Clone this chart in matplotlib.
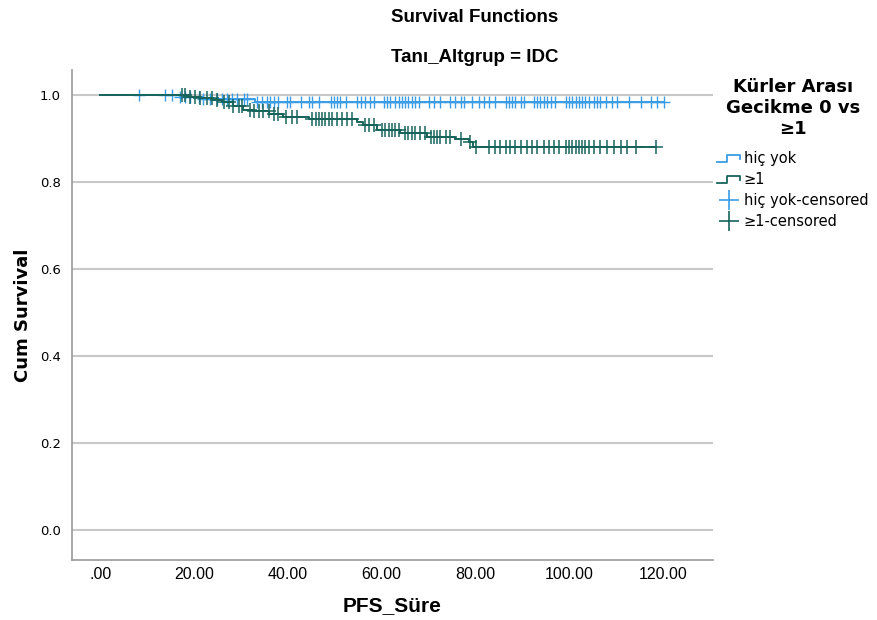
import numpy as np
import matplotlib
matplotlib.use('Agg')
import matplotlib.pyplot as plt
from matplotlib.lines import Line2D
from matplotlib.legend_handler import HandlerBase

# Kaplan-Meier steps
blue_event_t = [17.0, 22.0, 33.0]
blue_event_s = [0.995, 0.990, 0.984]
blue_end = 120.1

green_event_t = [18.5, 21.0, 24.0, 26.0, 28.4, 30.5, 32.6, 36.0, 39.0, 44.5,
                 54.8, 56.0, 59.0, 64.0, 69.7, 75.7, 78.5, 79.5]
green_event_s = [0.996, 0.992, 0.988, 0.984, 0.975, 0.966, 0.962, 0.957, 0.949, 0.945,
                 0.938, 0.931, 0.920, 0.913, 0.903, 0.899, 0.892, 0.880]
green_end = 118.4

blue_cens = [8.2, 13.9, 15.3, 17.1, 18.1, 19.2, 21.0, 22.0, 23.5, 24.9, 26.0, 27.0,
             28.1, 29.2, 30.6, 31.3, 33.4, 34.5, 35.5, 36.3, 37.0, 38.0, 39.8, 40.5,
             42.7, 44.4, 45.2, 46.6, 49.1, 49.8, 50.5, 51.2, 52.3, 54.7, 55.5, 56.5,
             57.6, 58.3, 60.4, 61.1, 61.8, 62.9, 63.6, 64.3, 65.0, 65.7, 66.5, 67.2,
             67.9, 70.0, 71.1, 72.5, 74.6, 75.7, 76.8, 77.5, 79.3, 80.7, 81.7, 82.8,
             84.2, 86.4, 87.1, 87.8, 88.5, 89.6, 90.3, 92.4, 93.1, 93.8, 94.5, 95.3,
             96.0, 97.0, 99.2, 99.9, 100.6, 101.3, 102.0, 102.7, 103.4, 104.1, 105.2,
             105.9, 106.6, 107.7, 109.1, 110.2, 112.7, 115.2, 117.3, 118.7, 120.1]

green_cens = [17.4, 18.1, 19.2, 20.3, 21.3, 22.8, 23.8, 24.9, 26.3, 27.4, 28.4, 29.5,
              30.2, 32.0, 32.7, 33.8, 34.8, 35.9, 37.0, 38.0, 39.5, 40.9, 42.0, 45.2,
              45.9, 46.6, 47.3, 48.0, 48.7, 49.4, 50.5, 51.5, 52.6, 53.7, 56.5, 57.2,
              58.3, 60.1, 60.8, 61.5, 62.2, 62.9, 63.6, 65.0, 65.7, 66.5, 67.2, 68.2,
              69.3, 70.4, 71.1, 71.8, 72.5, 73.6, 74.6, 76.8, 78.9, 80.0, 82.8, 84.2,
              85.3, 86.4, 87.4, 88.5, 89.6, 91.0, 92.1, 93.1, 94.5, 95.6, 96.7, 97.7,
              99.2, 99.9, 100.6, 101.3, 102.0, 102.7, 103.4, 104.1, 105.2, 106.6, 108.0,
              109.5, 110.9, 112.3, 114.1, 118.4]

blue_c = '#3a9de6'
green_c = '#17645d'
grid_c = '#c8c8c8'
narrow = ['Liberation Sans', 'DejaVu Sans']
wide = ['DejaVu Sans']


def km_level(ev_t, ev_s, t):
    idx = np.searchsorted(ev_t, t, side='right')
    levels = np.concatenate([[1.0], ev_s])
    return levels[idx]


def step_xy(ev_t, ev_s, end):
    xs = np.concatenate([[0.0], ev_t, [end]])
    ys = np.concatenate([[1.0], ev_s, [ev_s[-1]]])
    return xs, ys


class StepHandler(HandlerBase):
    def create_artists(self, legend, orig, xd, yd, w, h, fontsize, trans):
        x = [-xd, -xd + w * 0.45, -xd + w * 0.45, -xd + w, -xd + w]
        y = [-yd + h * 0.15, -yd + h * 0.15, -yd + h * 0.85, -yd + h * 0.85, -yd + h * 0.45]
        ln = Line2D(x, y, color=orig.get_color(), lw=1.3, transform=trans)
        return [ln]


fig = plt.figure(figsize=(8.77, 6.2), dpi=100)
ax = fig.add_axes([72 / 877, 1 - 560 / 620, (713 - 72) / 877, (560 - 70) / 620])

bx, by = step_xy(blue_event_t, blue_event_s, blue_end)
gx, gy = step_xy(green_event_t, green_event_s, green_end)
ax.step(bx, by, where='post', color=blue_c, lw=1.4, zorder=3)
ax.step(gx, gy, where='post', color=green_c, lw=1.4, zorder=4)
ax.plot(blue_cens, km_level(blue_event_t, blue_event_s, blue_cens), ls='none',
        marker='+', ms=9, mew=1.0, color=blue_c, zorder=3)
ax.plot(green_cens, km_level(green_event_t, green_event_s, green_cens), ls='none',
        marker='+', ms=10, mew=1.1, color=green_c, zorder=4)

ax.set_xlim(-6, 130.6)
ax.set_ylim(-0.069, 1.057)
xt = [0, 20, 40, 60, 80, 100, 120]
ax.set_xticks(xt)
ax.set_xticklabels(['.00'] + ['%.2f' % v for v in xt[1:]], fontfamily=narrow, fontsize=11.5)
yt = [0.0, 0.2, 0.4, 0.6, 0.8, 1.0]
ax.set_yticks(yt)
ax.set_yticklabels(['%.1f' % v for v in yt], fontfamily=wide, fontsize=9.5)
ax.tick_params(axis='x', length=0, pad=5)
ax.tick_params(axis='y', length=0, pad=8)
ax.yaxis.grid(True, color=grid_c, lw=1.5, zorder=0)
ax.set_axisbelow(True)
for s in ['top', 'right']:
    ax.spines[s].set_visible(False)
for s in ['left', 'bottom']:
    ax.spines[s].set_color('#999999')
    ax.spines[s].set_linewidth(1.2)

ax.set_xlabel('PFS_Süre', fontfamily=narrow, fontsize=15, fontweight='bold', labelpad=10)
ax.set_ylabel('Cum Survival', fontfamily=wide, fontsize=13, fontweight='bold', labelpad=6)

fig.text(475 / 877, 1 - 18 / 620, 'Survival Functions', ha='center', va='center',
         fontfamily=narrow, fontsize=13.5, fontweight='bold')
fig.text(475 / 877, 1 - 57 / 620, 'Tanı_Altgrup = IDC', ha='center', va='center',
         fontfamily=narrow, fontsize=13.5, fontweight='bold')

h1 = Line2D([], [], color=blue_c)
h2 = Line2D([], [], color=green_c)
h3 = Line2D([], [], color=blue_c, ls='none', marker='+', ms=14, mew=1.2)
h4 = Line2D([], [], color=green_c, ls='none', marker='+', ms=14, mew=1.2)
leg = fig.legend([h1, h2, h3, h4], ['hiç yok', '≥1', 'hiç yok-censored', '≥1-censored'],
                 handler_map={h1: StepHandler(), h2: StepHandler()},
                 loc='upper left', bbox_to_anchor=(714 / 877, 1 - 75 / 620),
                 frameon=False, prop={'family': wide, 'size': 10.5},
                 title='Kürler Arası\nGecikme 0 vs\n≥1',
                 title_fontproperties={'family': wide, 'size': 13, 'weight': 'bold'},
                 handlelength=1.6, handletextpad=0.25, labelspacing=0.4,
                 borderaxespad=0, borderpad=0.2)
leg.get_title().set_multialignment('center')
leg._legend_box.sep = 10

fig.savefig('out.png', dpi=100)
